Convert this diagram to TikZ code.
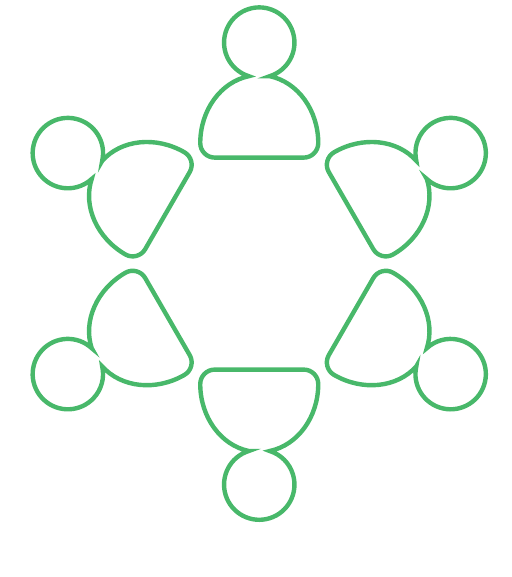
\documentclass[tikz,border=0pt]{standalone}
\definecolor{peoplegreen}{RGB}{72,184,106}
\begin{document}
\begin{tikzpicture}[
    x=1pt, y=1pt, xscale=1.108,
    outline/.style={draw=peoplegreen, line width=4.4pt, line join=miter},
    person/.pic={
        % head arc over the top, then the body down and round the bottom
        \draw[outline] (0,221) ++(-72.65:35.2)
            arc[start angle=-72.65, end angle=252.65, radius=35.2]
            arc[start angle=100.25, end angle=180, x radius=59, y radius=68]
            arc[start angle=180, end angle=270, radius=14.5]
            -- ++(89,0)
            arc[start angle=-90, end angle=0, radius=14.5]
            arc[start angle=0, end angle=79.75, x radius=59, y radius=68]
            -- cycle;
    }
]
    \useasboundingbox (-233.98,-313.4) rectangle (228.11,263.6);

    % Top person
    \pic at (0,0) {person};

    % Upper-left person
    \pic[rotate=60] at (0,0) {person};

    % Lower-left person
    \pic[rotate=120] at (0,0) {person};

    % Bottom person
    \pic[rotate=180] at (0,0) {person};

    % Lower-right person
    \pic[rotate=240] at (0,0) {person};

    % Upper-right person
    \pic[rotate=300] at (0,0) {person};
\end{tikzpicture}
\end{document}
